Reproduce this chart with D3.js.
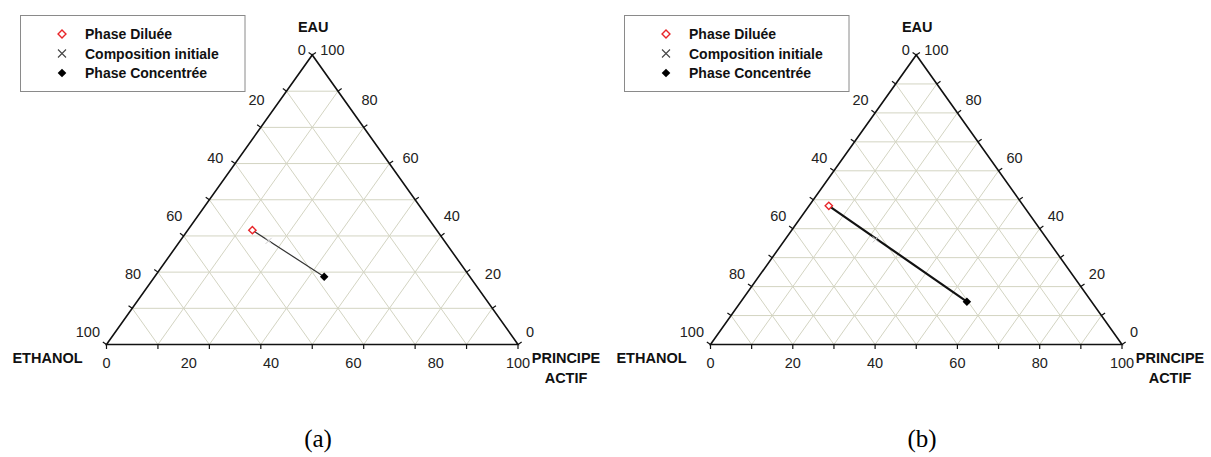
<!DOCTYPE html>
<html>
<head>
<meta charset="utf-8">
<script src="https://cdn.jsdelivr.net/npm/d3@7"></script>
<style>
  html, body { margin: 0; padding: 0; background: #fff; }
  svg { display: block; font-family: "Liberation Sans", Arial, sans-serif; }
</style>
</head>
<body>
<svg id="chart" width="1211" height="457"></svg>
<script>
// ---------------- DATA ----------------
// Compositions: [ethanol, principe actif, eau] (%)
const panelNames = ["(a)", "(b)"];
const gridDivisions = [8, 10];
const axisTickLabels = [0, 20, 40, 60, 80, 100];
const vertexLabels = ["ETHANOL", "PRINCIPE ACTIF", "EAU"];
const legendLabels = ["Phase Diluée", "Composition initiale", "Phase Concentrée"];

const dilueeA     = [44.8, 15.7, 39.5];
const initialeA   = [42.7, 21.5, 35.8];
const concentreeA = [35.4, 41.2, 23.4];

const dilueeB     = [47.3, 4.8, 47.9];
const initialeB   = [41.7, 22.0, 36.3];
const concentreeB = [30.3, 54.9, 14.8];

const panelData = [
  { diluee: dilueeA, initiale: initialeA, concentree: concentreeA },
  { diluee: dilueeB, initiale: initialeB, concentree: concentreeB }
];

// ---------------- LAYOUT ----------------
const svg = d3.select("#chart");
svg.append("rect").attr("width", 1211).attr("height", 457).attr("fill", "#fff");

const panelOffset = [0, 604];
const gridColor = "#d3d4c2";
const FS = 14;

panelData.forEach((pd, pi) => {
  const ox = panelOffset[pi];
  const g = svg.append("g").attr("transform", `translate(${ox},0)`);
  const n = gridDivisions[pi];

  // ternary -> cartesian via D3 scales
  const xs = d3.scaleLinear().domain([0, 100]).range([106.5, 518]);
  const ys = d3.scaleLinear().domain([0, 100]).range([344.5, 55]);
  const pt = (p, w) => [xs(p + w / 2), ys(w)];

  // grid
  const gridG = g.append("g").attr("stroke", gridColor).attr("stroke-width", 1).attr("fill", "none");
  const steps = d3.range(1, n).map(k => k * 100 / n);
  steps.forEach(v => {
    const lines = [
      [pt(0, v), pt(100 - v, v)],        // constant eau
      [pt(v, 0), pt(v, 100 - v)],        // constant principe actif
      [pt(100 - v, 0), pt(0, 100 - v)]   // constant ethanol
    ];
    lines.forEach(l => gridG.append("line")
      .attr("x1", l[0][0]).attr("y1", l[0][1])
      .attr("x2", l[1][0]).attr("y2", l[1][1]));
  });

  // triangle
  const T = pt(0, 100), BL = pt(0, 0), BR = pt(100, 0);
  g.append("path")
    .attr("d", d3.line()([BL, BR, T, BL]) + "Z")
    .attr("fill", "none").attr("stroke", "#111").attr("stroke-width", 1.6)
    .attr("stroke-linejoin", "miter");

  // ticks
  const tickLen = 4.5;
  const leftN = (() => { const dx = T[0] - BL[0], dy = T[1] - BL[1], L = Math.hypot(dx, dy); return [dy / L, -dx / L]; })();
  const rightN = (() => { const dx = T[0] - BR[0], dy = T[1] - BR[1], L = Math.hypot(dx, dy); return [-dy / L, dx / L]; })();
  const tickG = g.append("g").attr("stroke", "#111").attr("stroke-width", 1.2);
  d3.range(0, n + 1).map(k => k * 100 / n).forEach(v => {
    const b = pt(v, 0);
    tickG.append("line").attr("x1", b[0]).attr("y1", b[1]).attr("x2", b[0]).attr("y2", b[1] + tickLen);
    const l = pt(0, v);
    tickG.append("line").attr("x1", l[0]).attr("y1", l[1])
      .attr("x2", l[0] + leftN[0] * tickLen).attr("y2", l[1] + leftN[1] * tickLen);
    const r = pt(100 - v, v);
    tickG.append("line").attr("x1", r[0]).attr("y1", r[1])
      .attr("x2", r[0] + rightN[0] * tickLen).attr("y2", r[1] + rightN[1] * tickLen);
  });

  // tick labels
  const lab = g.append("g").attr("font-size", FS + 0.5).attr("fill", "#222");
  axisTickLabels.forEach(v => {
    // bottom: principe actif
    const b = pt(v, 0);
    lab.append("text").attr("x", b[0]).attr("y", b[1] + 23.5)
      .attr("text-anchor", "middle").text(v);
    // left: ethanol
    const l = pt(0, 100 - v);
    lab.append("text").attr("x", l[0] - 6.5).attr("y", l[1] - (v === 0 ? 0.5 : 7.5))
      .attr("text-anchor", "end").text(v);
    // right: eau
    const r = pt(100 - v, v);
    lab.append("text").attr("x", r[0] + 8).attr("y", r[1] - (v === 100 ? 0 : 7.5))
      .attr("text-anchor", "start").text(v);
  });

  // vertex labels
  const vl = g.append("g").attr("font-size", FS + 0.5).attr("font-weight", "bold").attr("fill", "#111");
  vl.append("text").attr("x", BL[0] - 59).attr("y", BL[1] + 18.5).attr("text-anchor", "middle").text(vertexLabels[0]);
  const pa = vertexLabels[1].split(" ");
  vl.append("text").attr("x", BR[0] + 48).attr("y", BR[1] + 18.5).attr("text-anchor", "middle").text(pa[0]);
  vl.append("text").attr("x", BR[0] + 48).attr("y", BR[1] + 38.5).attr("text-anchor", "middle").text(pa[1]);
  vl.append("text").attr("x", T[0] + 1).attr("y", T[1] - 23.5).attr("text-anchor", "middle").text(vertexLabels[2]);

  // tie line
  const d = pt(pd.diluee[1], pd.diluee[2]);
  const c = pt(pd.concentree[1], pd.concentree[2]);
  const ini = pt(pd.initiale[1], pd.initiale[2]);
  g.append("line").attr("x1", d[0]).attr("y1", d[1]).attr("x2", c[0]).attr("y2", c[1])
    .attr("stroke", pi === 0 ? "#333" : "#111").attr("stroke-width", pi === 0 ? 1.2 : 2.2);

  // composition initiale (faint x)
  const xsz = 3;
  g.append("path")
    .attr("d", `M${ini[0]-xsz},${ini[1]-xsz}L${ini[0]+xsz},${ini[1]+xsz}M${ini[0]-xsz},${ini[1]+xsz}L${ini[0]+xsz},${ini[1]-xsz}`)
    .attr("stroke", "#cfcfcf").attr("stroke-width", 1);

  // markers
  const diamond = d3.symbol().type(d3.symbolDiamond2);
  g.append("path").attr("d", diamond.size(34)())
    .attr("transform", `translate(${d[0]},${d[1]})`)
    .attr("fill", "#fff").attr("stroke", "#e8262a").attr("stroke-width", 1.4);
  g.append("path").attr("d", diamond.size(46)())
    .attr("transform", `translate(${c[0]},${c[1]})`)
    .attr("fill", "#000");

  // legend
  const lg = g.append("g");
  lg.append("rect").attr("x", 20.5).attr("y", 15.5).attr("width", 224.5).attr("height", 76)
    .attr("fill", "#fff").attr("stroke", "#8a8a8a").attr("stroke-width", 1);
  const rowY = [34, 53.5, 73];
  const symX = 62;
  lg.append("path").attr("d", diamond.size(40)())
    .attr("transform", `translate(${symX},${rowY[0]})`)
    .attr("fill", "#fff").attr("stroke", "#e8262a").attr("stroke-width", 1.4);
  const s = 4;
  lg.append("path")
    .attr("d", `M${symX-s},${rowY[1]-s}L${symX+s},${rowY[1]+s}M${symX-s},${rowY[1]+s}L${symX+s},${rowY[1]-s}`)
    .attr("stroke", "#444").attr("stroke-width", 1.1);
  lg.append("path").attr("d", diamond.size(48)())
    .attr("transform", `translate(${symX},${rowY[2]})`)
    .attr("fill", "#000");
  legendLabels.forEach((t, i) => {
    lg.append("text").attr("x", 85).attr("y", rowY[i] + 5)
      .attr("font-size", FS).attr("font-weight", "bold").attr("fill", "#111").text(t);
  });

  // panel caption
  g.append("text").attr("x", 318).attr("y", 447)
    .attr("text-anchor", "middle").attr("font-family", "'Liberation Serif', 'Times New Roman', serif")
    .attr("font-size", 25).attr("fill", "#000").text(panelNames[pi]);
});
</script>
</body>
</html>
